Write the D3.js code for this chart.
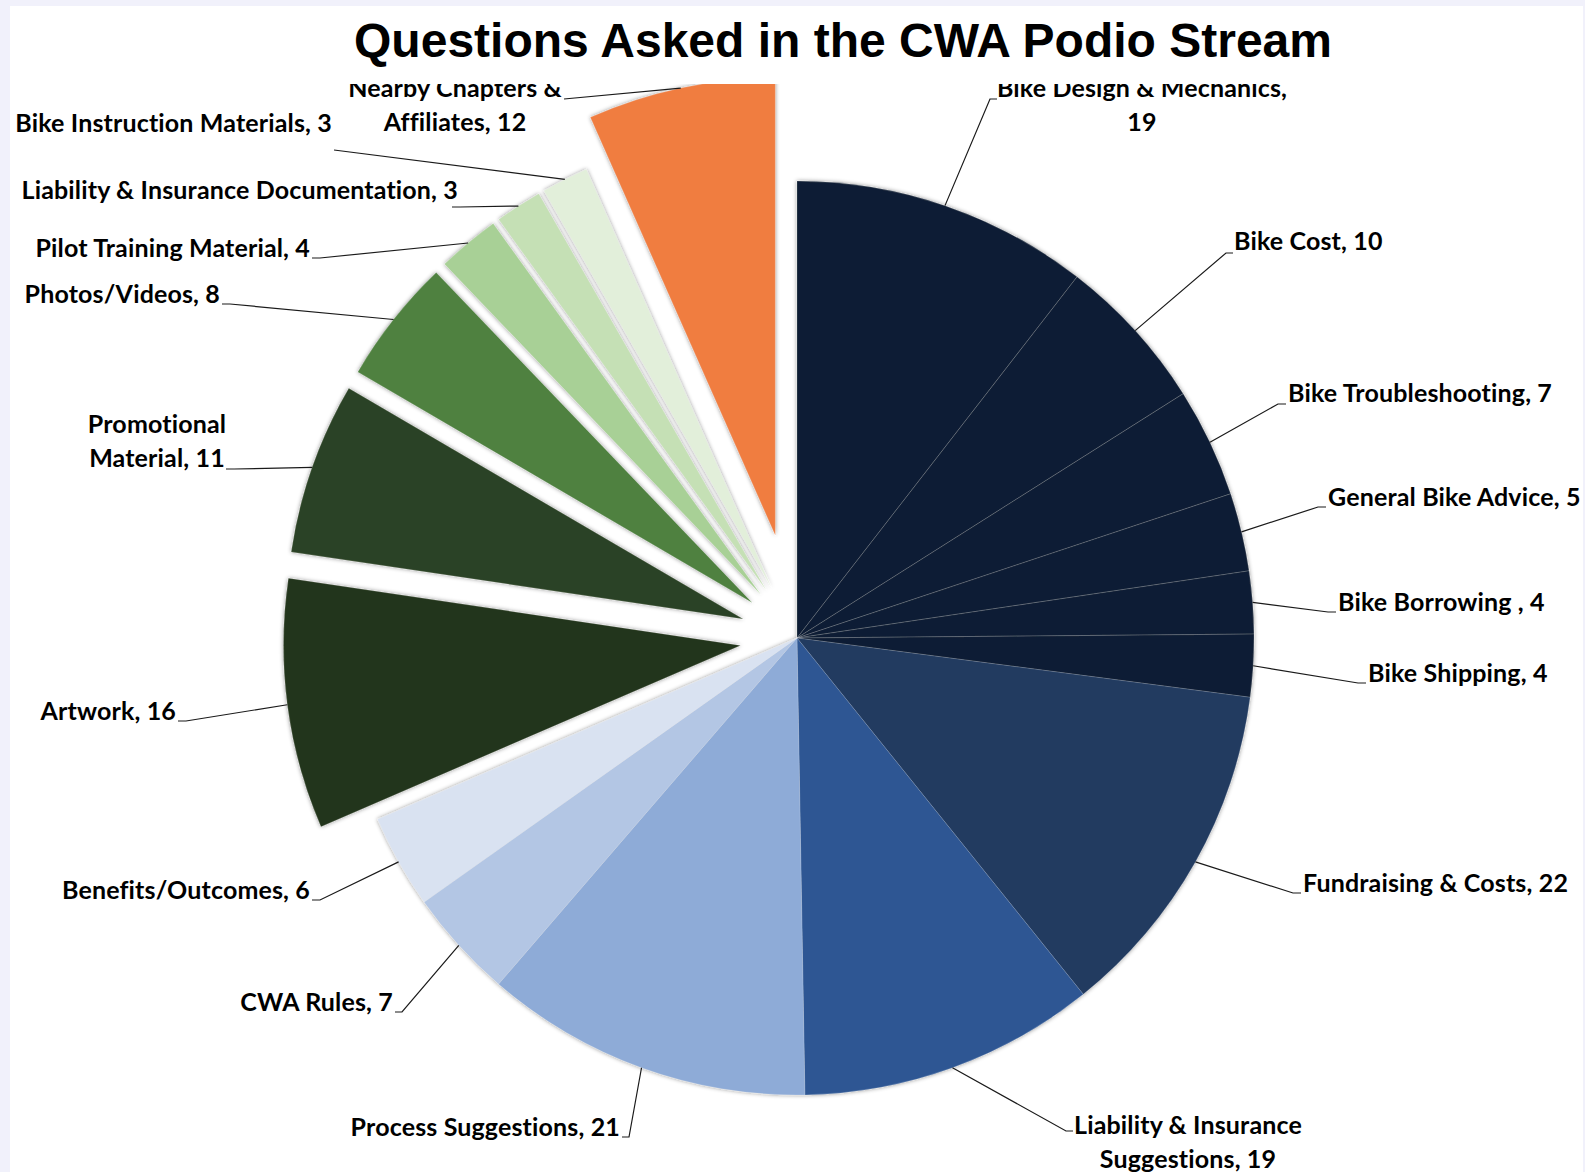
<!DOCTYPE html>
<html>
<head>
<meta charset="utf-8">
<script src="https://cdn.jsdelivr.net/npm/d3@7"></script>
<style>
  html, body { margin: 0; padding: 0; background: #f1f1fb; }
  svg { display: block; }
</style>
</head>
<body>
<div id="chart"></div>
<script>
// Questions asked in the CWA Podio stream
const categories = [
  "Bike Design & Mechanics", "Bike Cost", "Bike Troubleshooting", "General Bike Advice",
  "Bike Borrowing ", "Bike Shipping", "Fundraising & Costs", "Liability & Insurance Suggestions",
  "Process Suggestions", "CWA Rules", "Benefits/Outcomes", "Artwork", "Promotional Material",
  "Photos/Videos", "Pilot Training Material", "Liability & Insurance Documentation",
  "Bike Instruction Materials", "Nearby Chapters & Affiliates"
];
const counts = [19, 10, 7, 5, 4, 4, 22, 19, 21, 7, 6, 16, 11, 8, 4, 3, 3, 12];

const colors = [
  "#111f34", "#111f34", "#111f34", "#111f34", "#111f34", "#111f34",
  "#213a60", "#2d5693", "#8eabd7", "#b3c6e4", "#d9e2f1",
  "#22341a", "#2c4325", "#4f8140", "#a8d096", "#c5e0b5", "#e2efda", "#f07d41"
];
// how far each slice is pulled out of the pie (px)
const explode = [0, 0, 0, 0, 0, 0, 0, 0, 0, 0, 0, 57, 57, 57, 57, 57, 57, 105];

// label layout: text lines, anchor point, and where the leader line starts
const labelLayout = [
  { lines: ["Bike Design & Mechanics,", "19"], x: 1142, y: 97, anchor: "middle", lx: 997, ly: 99, ex: 990 },
  { lines: ["Bike Cost, 10"], x: 1234, y: 250, anchor: "start", lx: 1233, ly: 253, ex: 1226 },
  { lines: ["Bike Troubleshooting, 7"], x: 1288, y: 402, anchor: "start", lx: 1286, ly: 404, ex: 1278 },
  { lines: ["General Bike Advice, 5"], x: 1328, y: 506, anchor: "start", lx: 1326, ly: 507, ex: 1318 },
  { lines: ["Bike Borrowing , 4"], x: 1338, y: 611, anchor: "start", lx: 1336, ly: 612, ex: 1328 },
  { lines: ["Bike Shipping, 4"], x: 1368, y: 682, anchor: "start", lx: 1366, ly: 683, ex: 1358 },
  { lines: ["Fundraising & Costs, 22"], x: 1303, y: 892, anchor: "start", lx: 1301, ly: 893, ex: 1293 },
  { lines: ["Liability & Insurance", "Suggestions, 19"], x: 1188, y: 1134, anchor: "middle", lx: 1073, ly: 1131, ex: 1066 },
  { lines: ["Process Suggestions, 21"], x: 620, y: 1136, anchor: "end", lx: 622, ly: 1137, ex: 629 },
  { lines: ["CWA Rules, 7"], x: 393, y: 1011, anchor: "end", lx: 395, ly: 1012, ex: 402 },
  { lines: ["Benefits/Outcomes, 6"], x: 310, y: 899, anchor: "end", lx: 312, ly: 900, ex: 320 },
  { lines: ["Artwork, 16"], x: 176, y: 720, anchor: "end", lx: 178, ly: 721, ex: 186 },
  { lines: ["Promotional", "Material, 11"], x: 157, y: 433, anchor: "middle", lx: 226, ly: 469, ex: 234 },
  { lines: ["Photos/Videos, 8"], x: 220, y: 303, anchor: "end", lx: 222, ly: 304, ex: 230 },
  { lines: ["Pilot Training Material, 4"], x: 310, y: 257, anchor: "end", lx: 312, ly: 258, ex: 320 },
  { lines: ["Liability & Insurance Documentation, 3"], x: 458, y: 199, anchor: "end", lx: 452, ly: 207, ex: 460 },
  { lines: ["Bike Instruction Materials, 3"], x: 332, y: 132, anchor: "end", lx: 334, ly: 150, ex: 334 },
  { lines: ["Nearby Chapters &", "Affiliates, 12"], x: 455, y: 97, anchor: "middle", lx: 564, ly: 99, ex: 564 }
];

const width = 1585, height = 1172;
const cx = 797, cy = 638, radius = 457;

const svg = d3.select("#chart").append("svg")
  .attr("width", width)
  .attr("height", height);

const defs = svg.append("defs");
const shadow = defs.append("filter").attr("id", "soft")
  .attr("x", "-10%").attr("y", "-10%").attr("width", "120%").attr("height", "120%");
shadow.append("feDropShadow")
  .attr("dx", 0).attr("dy", 0)
  .attr("stdDeviation", 2.2)
  .attr("flood-color", "#000")
  .attr("flood-opacity", 0.45);

defs.append("clipPath").attr("id", "plotClip")
  .append("rect").attr("x", 0).attr("y", 84).attr("width", width).attr("height", height - 84);

// white chart area on the lavender page
svg.append("rect")
  .attr("x", 10).attr("y", 6)
  .attr("width", width - 12).attr("height", height - 6)
  .attr("fill", "#ffffff");

svg.append("text")
  .attr("x", 843).attr("y", 57)
  .attr("text-anchor", "middle")
  .attr("font-family", "'Liberation Sans', Arial, sans-serif")
  .attr("font-weight", "bold")
  .attr("font-size", 48)
  .attr("fill", "#000")
  .text("Questions Asked in the CWA Podio Stream");

const plot = svg.append("g").attr("clip-path", "url(#plotClip)");

const pie = d3.pie().sort(null).value(d => d).startAngle(0).endAngle(2 * Math.PI);
const arcs = pie(counts);
const arc = d3.arc().innerRadius(0).outerRadius(radius);
const edgeArc = d3.arc().innerRadius(radius).outerRadius(radius);

function offsetOf(d, i) {
  const mid = (d.startAngle + d.endAngle) / 2;
  return [explode[i] * Math.sin(mid), -explode[i] * Math.cos(mid)];
}

const slices = plot.append("g")
  .attr("transform", `translate(${cx},${cy})`)
  .attr("filter", "url(#soft)");

slices.selectAll("path")
  .data(arcs)
  .join("path")
  .attr("transform", (d, i) => {
    const [dx, dy] = offsetOf(d, i);
    return `translate(${dx},${dy})`;
  })
  .attr("d", arc)
  .attr("fill", (d, i) => colors[i])
  .attr("stroke", "rgba(255,255,255,0.2)")
  .attr("stroke-width", 0.8);

// leader lines
const line = d3.line();
plot.append("g").selectAll("path")
  .data(arcs)
  .join("path")
  .attr("d", (d, i) => {
    const L = labelLayout[i];
    const [dx, dy] = offsetOf(d, i);
    const [px, py] = edgeArc.centroid(d);
    return line([[L.lx, L.ly], [L.ex, L.ly], [cx + px + dx, cy + py + dy]]);
  })
  .attr("fill", "none")
  .attr("stroke", "#1a1a1a")
  .attr("stroke-width", 1.2);

// labels
const labels = plot.append("g")
  .attr("font-family", "Lato, 'Open Sans', sans-serif")
  .attr("font-weight", "bold")
  .attr("font-size", 25)
  .attr("letter-spacing", 0.15)
  .attr("fill", "#000");

labels.selectAll("text")
  .data(labelLayout)
  .join("text")
  .attr("x", d => d.x)
  .attr("y", d => d.y)
  .attr("text-anchor", d => d.anchor)
  .each(function (d) {
    d3.select(this).selectAll("tspan")
      .data(d.lines)
      .join("tspan")
      .attr("x", d.x)
      .attr("dy", (t, j) => j === 0 ? 0 : 34)
      .text(t => t);
  });
</script>
</body>
</html>
